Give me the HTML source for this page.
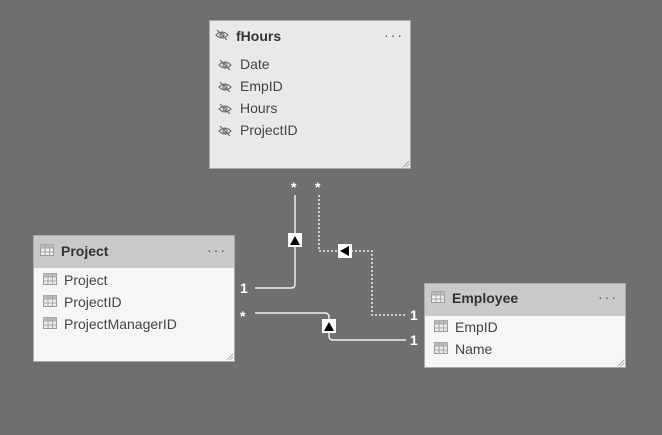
<!DOCTYPE html>
<html><head><style>
body{margin:0;width:662px;height:430px;background:#6f6f6f;overflow:hidden;font-family:"Liberation Sans",sans-serif}
</style></head><body>
<svg width="662" height="430" xmlns="http://www.w3.org/2000/svg" font-family="Liberation Sans, sans-serif">
<defs>
<g id="tbl"><rect x="0.5" y="0.5" width="13" height="11" fill="#ececec" stroke="#999" stroke-width="1"/><rect x="0.5" y="0.5" width="13" height="3" fill="#bbb"/><path d="M0.5 4H13.5M0.5 8H13.5M5 0.5V11.5M9.5 0.5V11.5" stroke="#aaa" stroke-width="1"/></g>
<g id="eye"><path d="M0 5 Q6 -1 12 5 Q6 11 0 5Z" fill="none" stroke="#666" stroke-width="1.1"/><circle cx="6" cy="5" r="2" fill="none" stroke="#666"/><path d="M1 0 L11 10" stroke="#666" stroke-width="1.1"/></g>
<g id="grip"><path d="M0 6 L6 0 M3 6 L6 3" stroke="#999" stroke-width="0.8"/></g>
</defs>
<!-- fHours -->
<rect x="209.5" y="20.5" width="201" height="148" fill="#e9e9e9" stroke="#aaa"/>
<use href="#eye" x="216" y="30"/>
<text x="236" y="41" font-size="14" font-weight="bold" fill="#333">fHours</text>
<text x="384" y="40" font-size="14" fill="#555" letter-spacing="2">···</text>
<use href="#grip" x="403" y="161"/>
<g font-size="14" fill="#444">
<use href="#eye" x="219" y="60"/><text x="240" y="69">Date</text>
<use href="#eye" x="219" y="82"/><text x="240" y="91">EmpID</text>
<use href="#eye" x="219" y="104"/><text x="240" y="113">Hours</text>
<use href="#eye" x="219" y="126"/><text x="240" y="135">ProjectID</text>
</g>
<!-- Project -->
<rect x="33.5" y="235.5" width="201" height="126" fill="#f6f6f6" stroke="#aaa"/>
<rect x="34" y="236" width="200" height="32" fill="#c9c9c9"/>
<use href="#tbl" x="40" y="244"/>
<text x="61" y="256" font-size="14" font-weight="bold" fill="#333">Project</text>
<text x="207" y="255" font-size="14" fill="#555" letter-spacing="2">···</text>
<use href="#grip" x="227" y="354"/>
<g font-size="14" fill="#444">
<use href="#tbl" x="43" y="273"/><text x="64" y="285">Project</text>
<use href="#tbl" x="43" y="295"/><text x="64" y="307">ProjectID</text>
<use href="#tbl" x="43" y="317"/><text x="64" y="329">ProjectManagerID</text>
</g>
<!-- Employee -->
<rect x="424.5" y="283.5" width="201" height="84" fill="#f6f6f6" stroke="#aaa"/>
<rect x="425" y="284" width="200" height="32" fill="#c9c9c9"/>
<use href="#tbl" x="431" y="291"/>
<text x="452" y="303" font-size="14" font-weight="bold" fill="#333">Employee</text>
<text x="598" y="302" font-size="14" fill="#555" letter-spacing="2">···</text>
<use href="#grip" x="618" y="360"/>
<g font-size="14" fill="#444">
<use href="#tbl" x="434" y="320"/><text x="455" y="332">EmpID</text>
<use href="#tbl" x="434" y="342"/><text x="455" y="354">Name</text>
</g>
<!-- connectors -->
<g fill="none" stroke="#eee" stroke-width="1.5">
<path d="M295 195 V284 Q295 288 291 288 H255"/>
<path d="M319 195 V251 H372 V315 H406" stroke-dasharray="2,2"/>
<path d="M255 313 H325 Q329 313 329 317 V336 Q329 340 333 340 H406"/>
</g>
<g fill="#fff" font-size="14" font-weight="bold">
<text x="291" y="192">*</text><text x="315" y="192">*</text>
<text x="240" y="293">1</text><text x="240" y="321">*</text>
<text x="410" y="320">1</text><text x="410" y="345">1</text>
</g>
<rect x="288" y="233" width="14" height="14" fill="#fff"/><path d="M290 245 L295 236 L300 245Z" fill="#000"/>
<rect x="338" y="244" width="14" height="14" fill="#fff"/><path d="M349 246 L340 251 L349 256Z" fill="#000"/>
<rect x="322" y="319" width="14" height="14" fill="#fff"/><path d="M324 331 L329 322 L334 331Z" fill="#000"/>
</svg>
</body></html>
